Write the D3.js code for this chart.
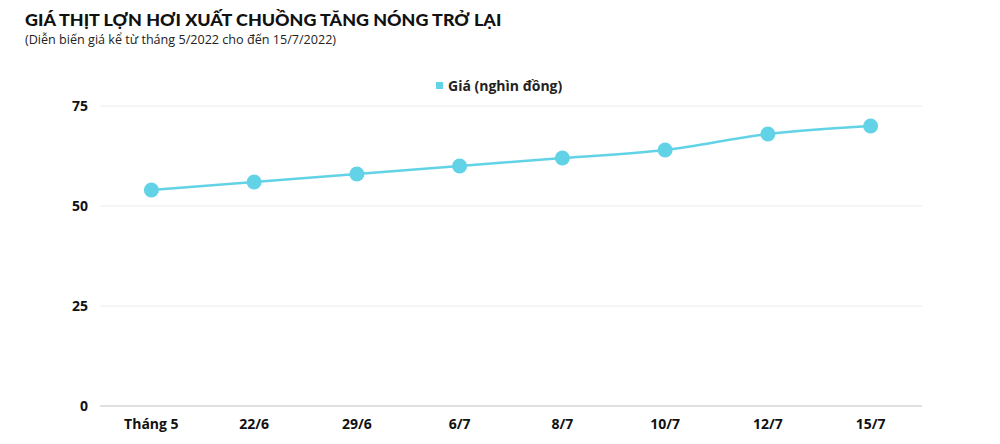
<!DOCTYPE html>
<html>
<head>
<meta charset="utf-8">
<script src="https://cdn.jsdelivr.net/npm/d3@7"></script>
<style>
  body { margin: 0; background: #fff; }
  svg { display: block; }
</style>
</head>
<body>
<div id="chart"></div>
<script>
const width = 1000;
const height = 444;

const categories = ["Tháng 5", "22/6", "29/6", "6/7", "8/7", "10/7", "12/7", "15/7"];
const prices = [54, 56, 58, 60, 62, 64, 68, 70];
const yTicks = [0, 25, 50, 75];
const seriesName = "Giá (nghìn đồng)";
const color = "#62d3e6";

const margin = {top: 106, right: 78, bottom: 38, left: 100};

const svg = d3.select("#chart").append("svg")
    .attr("width", width)
    .attr("height", height);

svg.append("text")
    .attr("x", 25)
    .attr("y", 26)
    .attr("font-family", "Lato, sans-serif")
    .attr("font-weight", 900)
    .attr("font-size", 17.9)
    .attr("fill", "#111")
    .text("GIÁ THỊT LỢN HƠI XUẤT CHUỒNG TĂNG NÓNG TRỞ LẠI");

svg.append("text")
    .attr("x", 25)
    .attr("y", 44)
    .attr("font-family", "'Open Sans', sans-serif")
    .attr("font-size", 12.6)
    .attr("fill", "#222")
    .text("(Diễn biến giá kể từ tháng 5/2022 cho đến 15/7/2022)");

const x = d3.scaleBand()
    .domain(categories)
    .range([margin.left, width - margin.right]);

const y = d3.scaleLinear()
    .domain([0, 75])
    .range([height - margin.bottom, margin.top]);

// grid
svg.append("g")
  .selectAll("line")
  .data(yTicks)
  .join("line")
    .attr("x1", margin.left)
    .attr("x2", width - margin.right)
    .attr("y1", d => y(d))
    .attr("y2", d => y(d))
    .attr("stroke", d => d === 0 ? "#d6d6d6" : "#ececec")
    .attr("stroke-width", d => d === 0 ? 1.5 : 1);

// y axis labels
svg.append("g")
    .attr("font-family", "'Open Sans', sans-serif")
    .attr("font-weight", 700)
    .attr("font-size", 14)
    .attr("fill", "#111")
  .selectAll("text")
  .data(yTicks)
  .join("text")
    .attr("x", 88)
    .attr("y", d => y(d))
    .attr("dy", "0.35em")
    .attr("text-anchor", "end")
    .text(d => d);

// x axis labels
svg.append("g")
    .attr("font-family", "'Open Sans', sans-serif")
    .attr("font-weight", 700)
    .attr("font-size", 14)
    .attr("fill", "#111")
  .selectAll("text")
  .data(categories)
  .join("text")
    .attr("x", d => x(d) + x.bandwidth() / 2)
    .attr("y", 429)
    .attr("text-anchor", "middle")
    .text(d => d);

const line = d3.line()
    .x((d, i) => x(categories[i]) + x.bandwidth() / 2)
    .y(d => y(d))
    .curve(d3.curveMonotoneX);

svg.append("path")
    .datum(prices)
    .attr("fill", "none")
    .attr("stroke", color)
    .attr("stroke-width", 2.5)
    .attr("d", line);

svg.append("g")
  .selectAll("circle")
  .data(prices)
  .join("circle")
    .attr("cx", (d, i) => x(categories[i]) + x.bandwidth() / 2)
    .attr("cy", d => y(d))
    .attr("r", 7.5)
    .attr("fill", color);

// legend
const legend = svg.append("g").attr("transform", "translate(436,86)");
legend.append("rect")
    .attr("x", 0).attr("y", -4)
    .attr("width", 7).attr("height", 7)
    .attr("fill", color);
legend.append("text")
    .attr("x", 12)
    .attr("y", 0)
    .attr("dy", "0.35em")
    .attr("font-family", "'Open Sans', sans-serif")
    .attr("font-weight", 700)
    .attr("font-size", 14)
    .attr("fill", "#222")
    .text(seriesName);
</script>
</body>
</html>
